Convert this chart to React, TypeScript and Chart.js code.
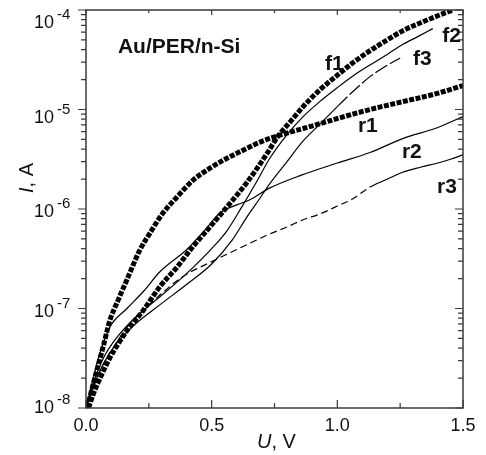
import { useEffect, useRef } from 'react';
import { Chart, registerables } from 'chart.js';
Chart.register(...registerables);

// f1 (forward, squares)
const U_F1 = [0.01, 0.03, 0.06, 0.095, 0.13, 0.163, 0.227, 0.294, 0.362, 0.426, 0.493, 0.561, 0.641, 0.72, 0.764, 0.82, 0.864, 0.931, 0.999, 1.062, 1.13, 1.198, 1.261, 1.329, 1.397, 1.46];
const I_F1 = [1.0e-8, 1.4e-8, 2.1e-8, 3.2e-8, 4.5e-8, 6.0e-8, 9.5e-8, 1.66e-7, 2.6e-7, 4.2e-7, 6.6e-7, 1.05e-6, 1.86e-6, 3.6e-6, 5.4e-6, 7.9e-6, 1.07e-5, 1.58e-5, 2.2e-5, 2.95e-5, 3.9e-5, 5.0e-5, 6.2e-5, 7.4e-5, 8.7e-5, 1.0e-4];
// r1 (reverse, squares)
const U_R1 = [0.005, 0.03, 0.068, 0.095, 0.127, 0.163, 0.215, 0.255, 0.306, 0.362, 0.426, 0.493, 0.561, 0.625, 0.692, 0.76, 0.931, 0.999, 1.13, 1.261, 1.397, 1.5];
const I_R1 = [1.0e-8, 1.8e-8, 4.1e-8, 7.6e-8, 1.2e-7, 1.95e-7, 3.9e-7, 5.75e-7, 9.1e-7, 1.32e-6, 1.95e-6, 2.57e-6, 3.24e-6, 3.9e-6, 4.7e-6, 5.4e-6, 7.2e-6, 8.1e-6, 1.0e-5, 1.2e-5, 1.45e-5, 1.74e-5];
// f2 (solid)
const U_F2 = [0.0, 0.03, 0.07, 0.12, 0.2, 0.3, 0.4, 0.5, 0.56, 0.62, 0.68, 0.73, 0.8, 0.86, 0.93, 1.0, 1.065, 1.13, 1.2, 1.26, 1.32, 1.38];
const I_F2 = [1.0e-8, 1.8e-8, 3.2e-8, 5.0e-8, 8.3e-8, 1.35e-7, 2.24e-7, 4.0e-7, 6.0e-7, 1.05e-6, 1.9e-6, 3.2e-6, 5.6e-6, 8.3e-6, 1.2e-5, 1.66e-5, 2.2e-5, 2.8e-5, 3.6e-5, 4.5e-5, 5.4e-5, 6.5e-5];
// f3
const U_F3 = [0.0, 0.03, 0.07, 0.12, 0.2, 0.3, 0.4, 0.5, 0.58, 0.64, 0.69, 0.73, 0.8, 0.86, 0.93, 1.0, 1.06, 1.13, 1.19, 1.25];
const I_F3 = [1.0e-8, 1.66e-8, 2.8e-8, 4.4e-8, 7.1e-8, 1.12e-7, 1.74e-7, 2.8e-7, 4.8e-7, 8.3e-7, 1.26e-6, 1.78e-6, 3.0e-6, 4.7e-6, 7.1e-6, 1.07e-5, 1.5e-5, 2.14e-5, 2.7e-5, 3.3e-5];
// r2 (solid)
const U_R2 = [0.0, 0.02, 0.05, 0.095, 0.163, 0.23, 0.294, 0.4, 0.47, 0.533, 0.6, 0.65, 0.73, 0.86, 1.0, 1.13, 1.26, 1.4, 1.5];
const I_R2 = [1.0e-8, 1.6e-8, 3.2e-8, 6.5e-8, 1.0e-7, 1.5e-7, 2.34e-7, 3.9e-7, 6.0e-7, 9.1e-7, 1.1e-6, 1.23e-6, 1.62e-6, 2.2e-6, 2.9e-6, 3.7e-6, 5.1e-6, 6.6e-6, 8.5e-6];
// r3 (dashed)
const U_R3 = [0.0, 0.03, 0.07, 0.12, 0.17, 0.227, 0.3, 0.386, 0.493, 0.625, 0.73, 0.8, 0.864, 0.93, 1.0, 1.06, 1.13, 1.2, 1.26, 1.33, 1.4, 1.45, 1.5];
const I_R3 = [1.0e-8, 1.66e-8, 2.8e-8, 4.5e-8, 6.8e-8, 9.5e-8, 1.41e-7, 2.1e-7, 2.9e-7, 4.2e-7, 5.6e-7, 6.6e-7, 7.8e-7, 8.9e-7, 1.07e-6, 1.26e-6, 1.66e-6, 2.0e-6, 2.34e-6, 2.63e-6, 2.9e-6, 3.16e-6, 3.5e-6];

// axis ticks
const X_MAJOR = [0, 0.5, 1.0, 1.5];
const X_MINOR = [0.25, 0.75, 1.25];
const X_TICK_LABELS = ['0.0', '0.5', '1.0', '1.5'];
const Y_MAJOR = [1e-4, 1e-5, 1e-6, 1e-7, 1e-8];
const Y_TICK_EXP = ['-4', '-5', '-6', '-7', '-8'];
const Y_LABEL_SHIFT = [18, 13, 8, 8, 5];

// curve labels (text, U, I)
const CURVE_LABELS = ['f1', 'f2', 'f3', 'r1', 'r2', 'r3'];
const CURVE_LABEL_U = [0.951, 1.417, 1.301, 1.082, 1.257, 1.397];
const CURVE_LABEL_I = [2.5e-5, 4.8e-5, 2.8e-5, 5.9e-6, 3.26e-6, 1.45e-6];
const TITLE = 'Au/PER/n-Si';
const TITLE_U = 0.127;
const TITLE_I = 3.7e-5;

const FONT = '"Liberation Sans", Arial, Helvetica, sans-serif';

export default function App() {
  const ref = useRef<HTMLCanvasElement>(null);
  useEffect(() => {
    const canvas = ref.current!;
    const pts = (u: number[], i: number[]) => u.map((x, k) => ({ x, y: i[k] }));

    const framePlugin = {
      id: 'frame',
      afterDatasetsDraw(chart: any) {
        const { ctx, chartArea: a, scales } = chart;
        const xs = scales.x;
        const ys = scales.y;
        ctx.save();
        ctx.strokeStyle = '#3a3a3a';
        ctx.lineWidth = 1.5;
        ctx.strokeRect(a.left, a.top, a.right - a.left, a.bottom - a.top);
        ctx.lineWidth = 1.2;
        ctx.beginPath();
        X_MAJOR.forEach((v) => {
          const px = xs.getPixelForValue(v);
          ctx.moveTo(px, a.bottom); ctx.lineTo(px, a.bottom - 8);
          ctx.moveTo(px, a.top); ctx.lineTo(px, a.top + 5);
        });
        X_MINOR.forEach((v) => {
          const px = xs.getPixelForValue(v);
          ctx.moveTo(px, a.bottom); ctx.lineTo(px, a.bottom - 5);
          ctx.moveTo(px, a.top); ctx.lineTo(px, a.top + 3);
        });
        Y_MAJOR.forEach((v) => {
          const py = ys.getPixelForValue(v);
          ctx.moveTo(a.left, py); ctx.lineTo(a.left - 8, py);
          ctx.moveTo(a.right, py); ctx.lineTo(a.right - 8, py);
        });
        Y_MAJOR.slice(1).forEach((base) => {
          for (let k = 2; k <= 9; k++) {
            const py = ys.getPixelForValue(base * k);
            ctx.moveTo(a.left, py); ctx.lineTo(a.left - 5, py);
            ctx.moveTo(a.right, py); ctx.lineTo(a.right - 5, py);
          }
        });
        ctx.stroke();

        ctx.fillStyle = '#111';
        ctx.font = `18px ${FONT}`;
        ctx.textAlign = 'center';
        ctx.textBaseline = 'alphabetic';
        X_MAJOR.forEach((v, k) => {
          ctx.fillText(X_TICK_LABELS[k], xs.getPixelForValue(v), 431);
        });
        Y_MAJOR.forEach((v, k) => {
          const py = ys.getPixelForValue(v);
          ctx.font = `18px ${FONT}`;
          ctx.textAlign = 'right';
          ctx.fillText('10', 54, py + Y_LABEL_SHIFT[k]);
          ctx.font = `15px ${FONT}`;
          ctx.textAlign = 'left';
          ctx.fillText(Y_TICK_EXP[k], 57, py + Y_LABEL_SHIFT[k] - 9);
        });
        const cx = (a.left + a.right) / 2 + 2;
        ctx.font = `italic 20px ${FONT}`;
        const wU = ctx.measureText('U').width;
        ctx.font = `20px ${FONT}`;
        const wRest = ctx.measureText(', V').width;
        const x0 = cx - (wU + wRest) / 2;
        ctx.textAlign = 'left';
        ctx.font = `italic 20px ${FONT}`;
        ctx.fillText('U', x0, 448);
        ctx.font = `20px ${FONT}`;
        ctx.fillText(', V', x0 + wU, 448);
        ctx.save();
        ctx.translate(33, 178);
        ctx.rotate(-Math.PI / 2);
        ctx.font = `italic 20px ${FONT}`;
        const wI = ctx.measureText('I').width;
        ctx.font = `20px ${FONT}`;
        const wA = ctx.measureText(', A').width;
        const y0 = -(wI + wA) / 2;
        ctx.font = `italic 20px ${FONT}`;
        ctx.fillText('I', y0, 0);
        ctx.font = `20px ${FONT}`;
        ctx.fillText(', A', y0 + wI, 0);
        ctx.restore();
        ctx.font = `bold 21px ${FONT}`;
        ctx.textAlign = 'left';
        ctx.fillText(TITLE, xs.getPixelForValue(TITLE_U), ys.getPixelForValue(TITLE_I));
        CURVE_LABELS.forEach((t, k) => {
          ctx.fillText(t, xs.getPixelForValue(CURVE_LABEL_U[k]), ys.getPixelForValue(CURVE_LABEL_I[k]));
        });
        ctx.restore();
      },
    };

    const squares = { borderColor: '#000', backgroundColor: '#000', borderWidth: 5, borderDash: [5, 1.5], borderCapStyle: 'butt', pointRadius: 0, showLine: true, cubicInterpolationMode: 'monotone' };
    const thin = { borderColor: '#000', backgroundColor: '#000', borderWidth: 1.2, pointRadius: 0, showLine: true, cubicInterpolationMode: 'monotone' };

    const chart = new Chart(canvas, {
      type: 'scatter',
      data: {
        datasets: [
          { label: 'f1', data: pts(U_F1, I_F1), ...squares },
          { label: 'r1', data: pts(U_R1, I_R1), ...squares },
          { label: 'f2', data: pts(U_F2, I_F2), ...thin },
          { label: 'f3', data: pts(U_F3, I_F3), ...thin, segment: { borderDash: (c: any) => (c.p0.parsed.x >= 1.0 ? [14, 3] : undefined) } },
          { label: 'r2', data: pts(U_R2, I_R2), ...thin },
          { label: 'r3', data: pts(U_R3, I_R3), ...thin, segment: { borderDash: (c: any) => (c.p0.parsed.x < 1.1 ? [7, 4] : undefined) } },
        ] as any,
      },
      options: {
        animation: false,
        responsive: false,
        devicePixelRatio: 1,
        layout: { padding: { left: 86, top: 10, right: 23, bottom: 47 } },
        plugins: { legend: { display: false }, tooltip: { enabled: false } },
        scales: {
          x: { type: 'linear', min: 0, max: 1.5, display: false },
          y: { type: 'logarithmic', min: 1e-8, max: 1e-4, display: false },
        },
      } as any,
      plugins: [framePlugin],
    });
    return () => chart.destroy();
  }, []);

  return (
    <div style={{ position: 'fixed', left: 0, top: 0, width: 486, height: 455, background: '#fff' }}>
      <canvas ref={ref} width={486} height={455} style={{ display: 'block', width: 486, height: 455 }} />
    </div>
  );
}
